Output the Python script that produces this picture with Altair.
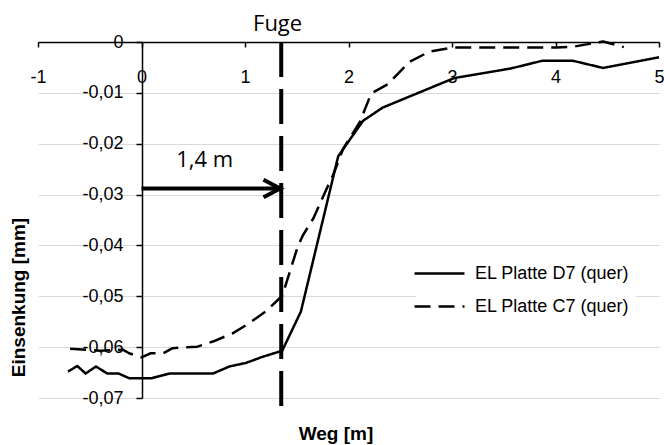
import altair as alt
import pandas as pd

# ---- data ----
series_names = ["EL Platte D7 (quer)", "EL Platte C7 (quer)"]

d7_x = [-0.71, -0.62, -0.54, -0.44, -0.33, -0.22, -0.12, 0.10, 0.27, 0.69, 0.85, 1.01, 1.17,
        1.36, 1.54, 1.90, 2.14, 2.33, 3.02, 3.57, 3.87, 4.17, 4.46, 5.00]
d7_y = [-0.0648, -0.0637, -0.0652, -0.0638, -0.0652, -0.0652, -0.0661, -0.0661, -0.0652, -0.0652,
        -0.0638, -0.0631, -0.0619, -0.0607, -0.0530, -0.0225, -0.0155, -0.0129, -0.0071, -0.0052,
        -0.0037, -0.0037, -0.0051, -0.0030]

c7_x = [-0.69, -0.40, -0.18, -0.12, 0.00, 0.09, 0.21, 0.30, 0.54, 0.69, 0.88, 1.04, 1.20, 1.36,
        1.51, 1.56, 1.66, 1.77, 1.85, 1.95, 2.11, 2.22, 2.38, 2.59, 2.78, 3.00, 4.01, 4.18, 4.46, 4.66]
c7_y = [-0.0603, -0.0607, -0.0605, -0.0612, -0.0620, -0.0612, -0.0612, -0.0602, -0.0599, -0.0589,
        -0.0573, -0.0553, -0.0530, -0.0499, -0.0402, -0.0380, -0.0347, -0.0297, -0.0262, -0.0209,
        -0.0157, -0.0101, -0.0083, -0.0039, -0.0019, -0.0011, -0.0011, -0.0009, 0.0001, -0.0010]

x_ticks = [-1, 0, 1, 2, 3, 4, 5]
y_ticks = [0, -0.01, -0.02, -0.03, -0.04, -0.05, -0.06, -0.07]

fuge_x = 1.35
fuge_top = 0.0
fuge_bottom = -0.0739
fuge_label = "Fuge"
fuge_label_x = 1.315
fuge_label_y = 0.0022

arrow_x0 = 0.0
arrow_x1 = 1.34
arrow_y = -0.0288
arrow_label = "1,4 m"
arrow_label_x = 0.61
arrow_label_y = -0.0246

# ---- tables ----
rows = []
for i, (x, y) in enumerate(zip(d7_x, d7_y)):
    rows.append({"series": series_names[0], "order": i, "x": x, "y": y})
for i, (x, y) in enumerate(zip(c7_x, c7_y)):
    rows.append({"series": series_names[1], "order": i, "x": x, "y": y})
df = pd.DataFrame(rows)

fuge_df = pd.DataFrame([{"x": fuge_x, "y": fuge_top, "y2": fuge_bottom}])
fuge_txt = pd.DataFrame([{"x": fuge_label_x, "y": fuge_label_y, "t": fuge_label}])
arrow_df = pd.DataFrame([{"x": arrow_x0, "x2": arrow_x1, "y": arrow_y}])
head_df = pd.DataFrame([{"x": arrow_x1, "y": arrow_y}])
arrow_txt = pd.DataFrame([{"x": arrow_label_x, "y": arrow_label_y, "t": arrow_label}])

W, H = 621, 356
FONT = "Liberation Sans"

xs = alt.Scale(domain=[-1, 5], nice=False, zero=False)
ys = alt.Scale(domain=[-0.07, 0], nice=False, zero=False)

x_axis = alt.Axis(
    orient="bottom", offset=-H, values=x_ticks, labelExpr="'' + datum.value",
    grid=False, domainColor="black", domainWidth=1.5, tickColor="black", tickWidth=1.5,
    tickSize=5, labelFont=FONT, labelFontSize=18, labelColor="black", labelPadding=21,
    labelFlush=False, labelOverlap=False,
    title="Weg [m]", titleFont=FONT, titleFontSize=19, titleFontWeight="bold",
    titleColor="black", titleX=297.5, titleY=397, titleAlign="center",
    titleBaseline="alphabetic",
)
y_axis = alt.Axis(
    orient="left", offset=-104, values=y_ticks,
    labelExpr="datum.value == 0 ? '0' : '-' + replace(format(-datum.value, '.2f'), '.', ',')",
    grid=True, gridColor="#d9d9d9", gridWidth=1,
    domainColor="black", domainWidth=1.5, tickColor="black", tickWidth=1.5, tickSize=6,
    labelFont=FONT, labelFontSize=18, labelColor="black", labelPadding=13,
    labelFlush=False, labelOverlap=False,
    title="Einsenkung [mm]", titleFont=FONT, titleFontSize=19, titleFontWeight="bold",
    titleColor="black", titleX=-124, titleY=255, titleAngle=270, titleAlign="center",
    titleBaseline="middle",
)

lines = alt.Chart(df).mark_line(color="black", strokeWidth=2.5, strokeJoin="round").encode(
    x=alt.X("x:Q", scale=xs, axis=x_axis),
    y=alt.Y("y:Q", scale=ys, axis=y_axis),
    strokeDash=alt.StrokeDash(
        "series:N",
        scale=alt.Scale(domain=series_names, range=[[1, 0], [16, 8]]),
        legend=alt.Legend(
            orient="none", legendX=378, legendY=208, title=None, fillColor="white",
            padding=6, rowPadding=6, symbolType="M-1.5625,0L1.5625,0", symbolSize=1024,
            symbolStrokeWidth=2.5, symbolStrokeColor="black", labelFont=FONT,
            labelFontSize=18, labelColor="black", labelOffset=18, labelLimit=400,
        ),
    ),
    order="order:Q",
)

fuge = alt.Chart(fuge_df).mark_rule(color="black", strokeWidth=4, strokeDash=[35, 12]).encode(
    x="x:Q", y="y:Q", y2="y2:Q"
)
fuge_text = alt.Chart(fuge_txt).mark_text(
    font="Open Sans", fontSize=22, color="black", align="center", baseline="alphabetic"
).encode(x="x:Q", y="y:Q", text="t:N")

arrow = alt.Chart(arrow_df).mark_rule(color="black", strokeWidth=4).encode(
    x="x:Q", x2="x2:Q", y="y:Q"
)
head = alt.Chart(head_df).mark_point(
    shape="M-1,-0.52L0,0L-1,0.52", size=1115, filled=False, strokeWidth=4,
    color="black", opacity=1
).encode(x="x:Q", y="y:Q")
arrow_text = alt.Chart(arrow_txt).mark_text(
    font="Open Sans", fontSize=22, color="black", align="center", baseline="alphabetic"
).encode(x="x:Q", y="y:Q", text="t:N")

chart = alt.layer(lines, fuge, fuge_text, arrow, head, arrow_text).properties(
    width=W, height=H,
    padding={"left": 38, "top": 42, "right": 5, "bottom": 47},
    autosize=alt.AutoSizeParams(type="none"),
    background="white",
).configure_view(stroke=None)

chart.save("out.html", embed_options={"renderer": "svg", "actions": False})
